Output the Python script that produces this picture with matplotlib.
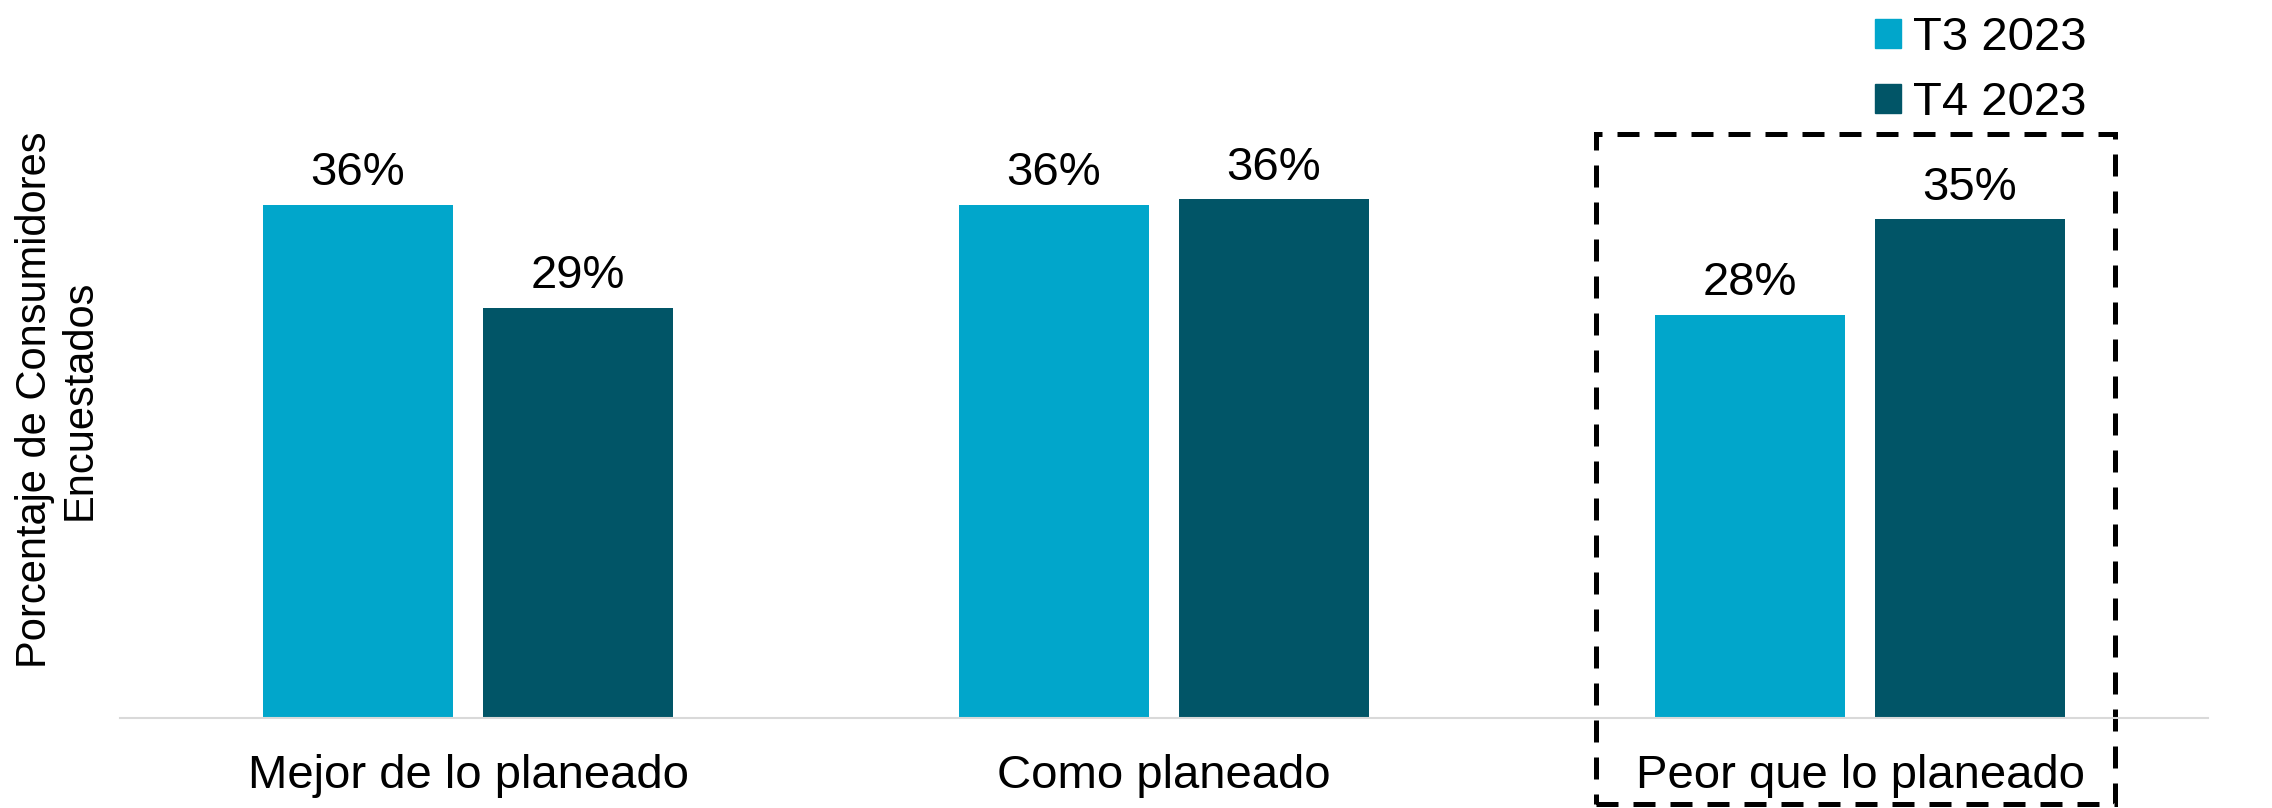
import numpy as np
import matplotlib.pyplot as plt
from matplotlib.patches import Rectangle, Patch
from matplotlib.transforms import blended_transform_factory

plt.rcParams['font.family'] = ['Liberation Sans', 'DejaVu Sans']

# datos
categorias = ["Mejor de lo planeado", "Como planeado", "Peor que lo planeado"]
series = ["T3 2023", "T4 2023"]
t3_2023 = [36.0, 36.0, 28.3]
t4_2023 = [28.8, 36.4, 35.0]
colores = ["#01A6CB", "#015567"]

fig = plt.figure(figsize=(22.72, 8.08), dpi=100, facecolor='white')
ax = fig.add_axes([120 / 2272, 90 / 808, 2088 / 2272, 570 / 808])

x = np.arange(len(categorias))
ancho = 0.274
desp = 0.158
b1 = ax.bar(x - desp, t3_2023, ancho, color=colores[0], label=series[0])
b2 = ax.bar(x + desp, t4_2023, ancho, color=colores[1], label=series[1])

for barras in (b1, b2):
    ax.bar_label(barras, labels=[f"{v:.0f}%" for v in barras.datavalues],
                 padding=7, fontsize=34)

ax.set_xlim(-0.5, 2.5)
ax.set_ylim(0, 40)
ax.set_xticks(x)
ax.set_xticklabels(categorias, fontsize=34)
ax.tick_params(axis='x', length=0, pad=26)
ax.set_yticks([])
for s in ['top', 'right', 'left']:
    ax.spines[s].set_visible(False)
ax.spines['bottom'].set_color('#d9d9d9')
ax.spines['bottom'].set_linewidth(1.5)

# recuadro punteado sobre "Peor que lo planeado"
trans = blended_transform_factory(ax.transData, ax.transAxes)
caja = Rectangle((1.621, -0.151), 2.366 - 1.621, 1.0246 + 0.151, transform=trans,
                 fill=False, edgecolor='black', linewidth=3.6, linestyle=(0, (4.4, 3)),
                 clip_on=False)
ax.add_patch(caja)

fig.text(57 / 2272, 1 - 400 / 808, "Porcentaje de Consumidores\nEncuestados",
         rotation=90, ha='center', va='center', multialignment='center',
         fontsize=30, linespacing=1.15)

handles = [Patch(color=c) for c in colores]
ax.legend(handles, series, loc='upper left', bbox_to_anchor=(1875 / 2272, 1 - 16 / 808),
          bbox_transform=fig.transFigure, frameon=False, fontsize=34,
          handlelength=0.55, handleheight=0.55, handletextpad=0.25,
          labelspacing=0.45, borderpad=0, borderaxespad=0)

fig.savefig("out.png", dpi=100, facecolor='white')
